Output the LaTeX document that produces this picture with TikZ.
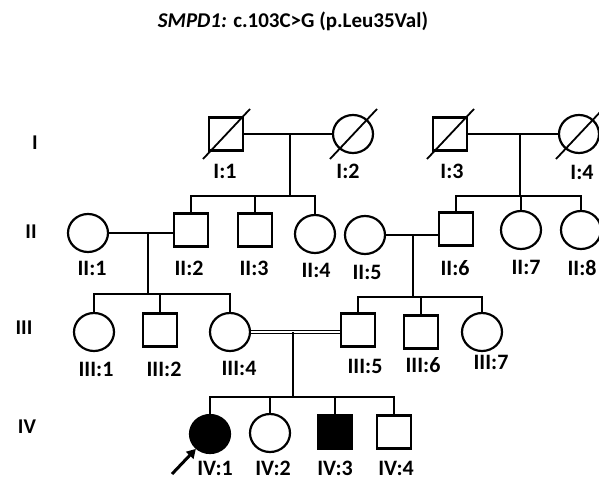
\documentclass[tikz,border=0pt]{standalone}
\usepackage{fontspec}
\setmainfont{Carlito}
\usepackage{tikz}
\usetikzlibrary{calc,positioning,shapes.geometric,arrows.meta}

\begin{document}
\begin{tikzpicture}[
  x=1pt, y=-1pt,
  malebox/.style={
    rectangle, draw, line width=2.2pt,
    minimum width=34pt, minimum height=33pt, inner sep=0pt,
  },
  femalenode/.style={
    ellipse, draw, line width=2.2pt,
    minimum width=40pt, minimum height=38pt, inner sep=0pt,
  },
  affected/.style={fill=black},
  idlabel/.style={font=\fontsize{22}{22}\selectfont\bfseries, inner sep=0pt},
  genlabel/.style={font=\fontsize{21}{21}\selectfont\bfseries, inner sep=0pt},
  link/.style={line width=2.2pt},
]
\useasboundingbox (0,0) rectangle (599,481);

% Title
\node[font=\fontsize{21}{21}\selectfont\bfseries] (title) at (293,21) {\textit{SMPD1:} c.103C>G (p.Leu35Val)};

% Generation labels
\node[genlabel] (gI) at (35,143) {I};
\node[genlabel] (gII) at (31,232) {II};
\node[genlabel] (gIII) at (24,328) {III};
\node[genlabel] (gIV) at (27,427) {IV};

% Generation I
\node[malebox] (i1) at (226,134) {};
\node[femalenode] (i2) at (353,134) {};
\node[malebox] (i3) at (450,134) {};
\node[femalenode] (i4) at (579,134) {};
\node[idlabel] (li1) at (225,171) {I:1};
\node[idlabel] (li2) at (348,171) {I:2};
\node[idlabel] (li3) at (452,171) {I:3};
\node[idlabel] (li4) at (582,172) {I:4};

% Deceased marks
\foreach \n in {i1,i2,i3,i4}
  \draw[line width=1.8pt] ([shift={(-23,25)}]\n.center) -- ([shift={(24,-25)}]\n.center);

% Generation II
\node[femalenode] (ii1) at (88,233) {};
\node[malebox] (ii2) at (191,230) {};
\node[malebox] (ii3) at (255,230) {};
\node[femalenode] (ii4) at (315,234) {};
\node[femalenode] (ii5) at (365,235) {};
\node[malebox] (ii6) at (456,229) {};
\node[femalenode] (ii7) at (521,230) {};
\node[femalenode] (ii8) at (581,230) {};
\node[idlabel] (lii1) at (92,268) {II:1};
\node[idlabel] (lii2) at (189,268) {II:2};
\node[idlabel] (lii3) at (254,268) {II:3};
\node[idlabel] (lii4) at (316,270) {II:4};
\node[idlabel] (lii5) at (367,272) {II:5};
\node[idlabel] (lii6) at (455,268) {II:6};
\node[idlabel] (lii7) at (526,267) {II:7};
\node[idlabel] (lii8) at (582,268) {II:8};

% Generation III
\node[femalenode] (iii1) at (94,332) {};
\node[malebox] (iii2) at (160,330) {};
\node[femalenode] (iii4) at (230,332) {};
\node[malebox] (iii5) at (358,330) {};
\node[malebox] (iii6) at (421,332) {};
\node[femalenode] (iii7) at (482,332) {};
\node[idlabel] (liii1) at (96,369) {III:1};
\node[idlabel] (liii2) at (164,369) {III:2};
\node[idlabel] (liii4) at (239,368) {III:4};
\node[idlabel] (liii5) at (365,366) {III:5};
\node[idlabel] (liii6) at (423,365) {III:6};
\node[idlabel] (liii7) at (491,362) {III:7};

% Generation IV
\node[femalenode, affected] (iv1) at (210,434) {};
\node[femalenode] (iv2) at (270,433) {};
\node[malebox, affected] (iv3) at (335,432) {};
\node[malebox] (iv4) at (394,432) {};
\node[idlabel] (liv1) at (215,468) {IV:1};
\node[idlabel] (liv2) at (273,468) {IV:2};
\node[idlabel] (liv3) at (335,468) {IV:3};
\node[idlabel] (liv4) at (396,468) {IV:4};

% Family I:1 x I:2
\coordinate (f12) at (290,134);
\coordinate (s12) at (290,196);
\draw[link] (i1) -- (i2);
\draw[link] (f12) -- (s12);
\draw[link] (ii2.north) |- (s12) -| (ii4.north);
\draw[link] (ii3.north) -- (ii3.north |- s12);

% Family I:3 x I:4
\coordinate (f34) at (520,134);
\coordinate (s34) at (520,196);
\draw[link] (i3) -- (i4);
\draw[link] (f34) -- (s34);
\draw[link] (ii6.north) |- (s34) -| (ii8.north);
\draw[link] (ii7.north) -- (ii7.north |- s34);

% Family II:1 x II:2
\coordinate (f1ii) at (148,233);
\coordinate (s1ii) at (148,294);
\draw[link] (ii1.east) -- (ii1.east -| ii2.west);
\draw[link] (f1ii) -- (s1ii);
\draw[link] (iii1.north) |- (s1ii) -| (iii4.north);
\draw[link] (iii2.north) -- (iii2.north |- s1ii);

% Family II:5 x II:6
\coordinate (f5ii) at (413,235);
\coordinate (s5ii) at (413,297);
\draw[link] (ii5.east) -- (ii5.east -| ii6.west);
\draw[link] (f5ii) -- (s5ii);
\draw[link] (iii5.north) |- (s5ii) -| (iii7.north);
\draw[link] (iii6.north) -- (iii6.north |- s5ii);

% Consanguineous union III:4 x III:5
\coordinate (f45) at (293,332);
\coordinate (s45) at (293,397);
\draw[line width=1pt, double, double distance=2pt] (iii4.east) -- (iii4.east -| iii5.west);
\draw[link] (f45) -- (s45);
\draw[link] (iv1.north) |- (s45) -| (iv4.north);
\draw[link] (iv2.north) -- (iv2.north |- s45);
\draw[link] (iv3.north) -- (iv3.north |- s45);

% Proband arrow
\coordinate (pointer) at (172,474);
\draw[line width=3pt, -{Triangle[length=9pt,width=10pt]}] (pointer) -- (iv1);

\end{tikzpicture}
\end{document}
